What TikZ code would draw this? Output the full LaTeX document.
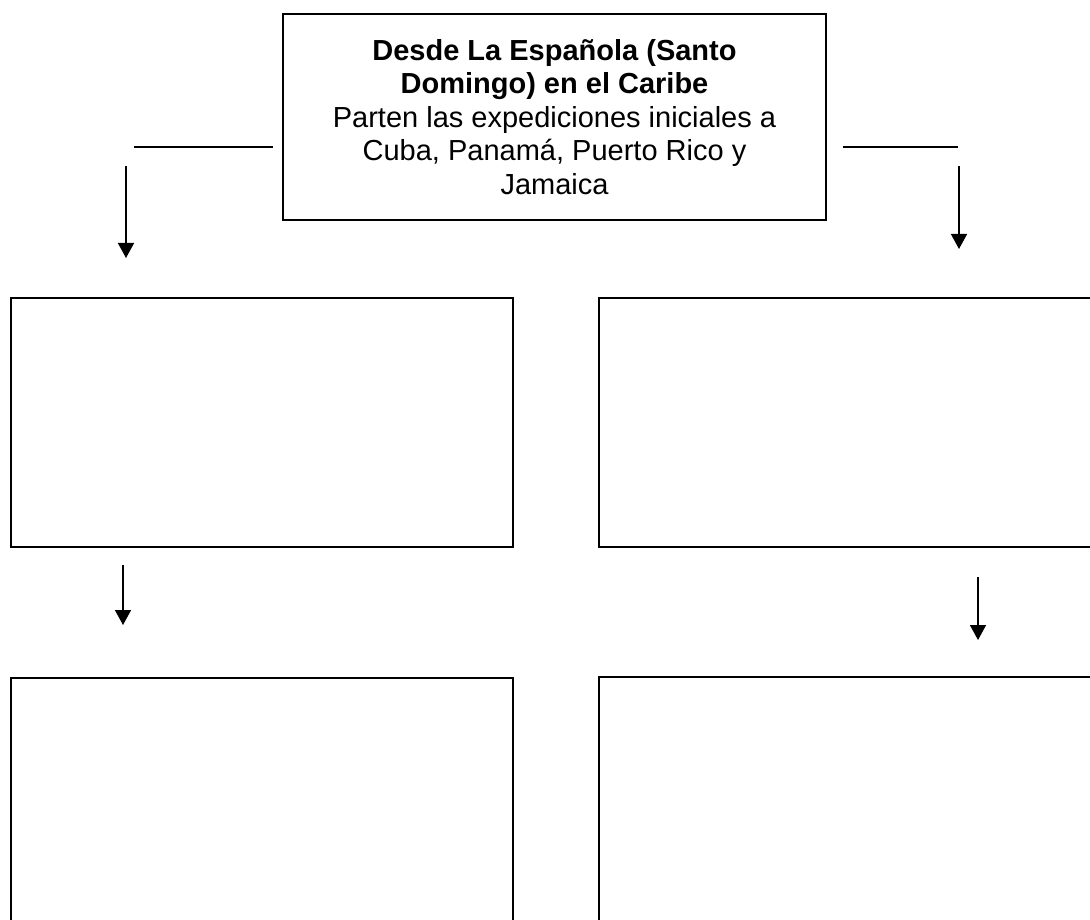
\documentclass[tikz,border=0pt]{standalone}
\usepackage{fontspec}
\setmainfont{Liberation Sans}
\usetikzlibrary{arrows.meta,positioning}

\begin{document}
\begin{tikzpicture}[x=1pt,y=-1pt,
    caja/.style={draw, line width=1.5pt, minimum width=502pt, minimum height=249pt, anchor=north west, inner sep=0pt},
    linea/.style={line width=1.5pt},
    flecha/.style={line width=1.5pt, -{Triangle[width=16pt,length=15pt]}}]
    % Page
    \useasboundingbox (0,0) rectangle (1090,920);
    \clip (0,0) rectangle (1090,920);

    % Top box
    \node[draw, line width=1.5pt, minimum width=543pt, minimum height=206pt, align=center,
          font=\fontsize{29}{33.4}\selectfont] (origen) at (554.5,117)
        {\textbf{Desde La Española (Santo}\\ \textbf{Domingo) en el Caribe}\\
         Parten las expediciones iniciales a\\ Cuba, Panamá, Puerto Rico y\\ Jamaica};

    % Empty boxes
    \node[caja] (izqA) at (10,297) {};
    \node[caja] (derA) at (598,297) {};
    \node[caja] (izqB) at (10,677) {};
    \node[caja] (derB) at (598,676) {};

    % Horizontal lines
    \coordinate (hi1) at (134,147);
    \coordinate (hi2) at (273,147);
    \coordinate (hd1) at (843,147);
    \coordinate (hd2) at (958,147);
    \draw[linea] (hi1) -- (hi2);
    \draw[linea] (hd1) -- (hd2);

    % Arrows
    \coordinate (fi1) at (126,166);
    \coordinate (fi2) at (126,258);
    \coordinate (fd1) at (959,166);
    \coordinate (fd2) at (959,249);
    \coordinate (gi1) at (123,565);
    \coordinate (gi2) at (123,625);
    \coordinate (gd1) at (978,577);
    \coordinate (gd2) at (978,640);
    \draw[flecha] (fi1) -- (fi2);
    \draw[flecha] (fd1) -- (fd2);
    \draw[flecha] (gi1) -- (gi2);
    \draw[flecha] (gd1) -- (gd2);
\end{tikzpicture}
\end{document}
